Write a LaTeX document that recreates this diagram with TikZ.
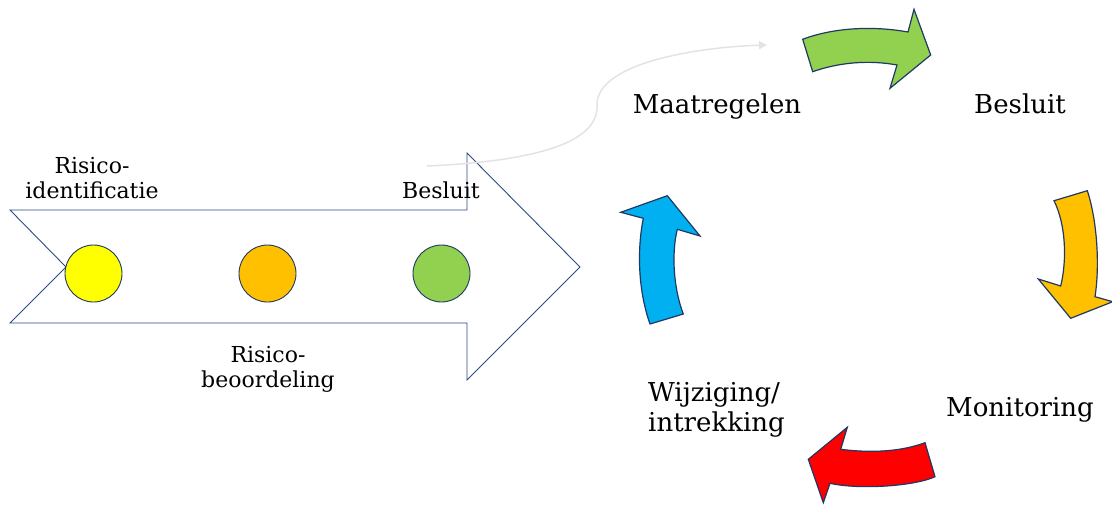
\documentclass[tikz,border=0pt]{standalone}
\usepackage{fontspec}
\setmainfont{DejaVu Serif}
\usetikzlibrary{arrows.meta}
\definecolor{navy}{HTML}{1F3864}
\definecolor{outl}{HTML}{2B4A84}
\definecolor{cyel}{HTML}{FFFF00}
\definecolor{corg}{HTML}{FFC000}
\definecolor{cgrn}{HTML}{92D050}
\definecolor{cblu}{HTML}{00B0F0}
\definecolor{cred}{HTML}{FF0000}
\definecolor{lgray}{HTML}{E3E3E3}
\begin{document}
\begin{tikzpicture}[x=1pt,y=-1pt,
  small/.style={font=\fontsize{22}{25}\selectfont, inner sep=0pt, align=center},
  large/.style={font=\fontsize{26}{30}\selectfont, inner sep=0pt, align=left},
  dot/.style={circle, draw=navy, line width=0.9pt, minimum size=57pt, inner sep=0pt},
  bendarrow/.style={draw=navy, line width=1.2pt, line join=miter}]
\useasboundingbox (0,0) rectangle (1112,504);
% big outline arrow
\draw[outl, line width=0.9pt, line join=miter]
  (10,210) -- (467,210) -- (467,153) -- (580,267) -- (467,380) -- (467,323) -- (10,323) -- (66,267) -- cycle;
% dots
\node[dot, fill=cyel] (d1) at (93.5,273.5) {};
\node[dot, fill=corg] (d2) at (267.5,273.5) {};
\node[dot, fill=cgrn] (d3) at (441.5,273.5) {};
% left labels
\node[small, anchor=base] (l1) at (92,198) {Risico-\\identificatie};
\node[small, anchor=base] (l2) at (441,198) {Besluit};
\node[small, anchor=base] (l3) at (268,387) {Risico-\\beoordeling};
% right labels
\node[large, anchor=base] (r1) at (717,113) {Maatregelen};
\node[large, anchor=base] (r2) at (1020,113) {Besluit};
\node[large, anchor=base] (r3) at (1020,416) {Monitoring};
\node[large, anchor=base west] (r4) at (648,431) {Wijziging/\\intrekking};
% grey connector
\coordinate (cs) at (427,166);
\coordinate (ce) at (767,45);
\draw[lgray, line width=1.5pt, -{Triangle[length=8pt,width=8pt]}]
  (cs) .. controls (560,160) and (600,135) .. (597,103)
       .. controls (600,62) and (700,47) .. (ce);
% green curved arrow
\filldraw[bendarrow, fill=cgrn]
  (802.7,39.3) .. controls (835,27) and (875,26) .. (908,32) -- (914,9.3) -- (930.7,55)
  -- (890,88.3) -- (897,65) .. controls (870,60) and (840,62) .. (812.7,71.7) -- cycle;
% yellow curved arrow
\filldraw[bendarrow, fill=corg]
  (1054,200.7) -- (1087.3,190.7) .. controls (1097,220) and (1100,265) .. (1095,296.7)
  -- (1112.7,301.7) -- (1070.7,318.3) -- (1038.3,279) -- (1060.7,286)
  .. controls (1067,260) and (1066,225) .. (1054,200.7) -- cycle;
% red curved arrow
\filldraw[bendarrow, fill=cred]
  (925,442.7) -- (935,476.7) .. controls (915,486) and (860,490) .. (830,483.3)
  -- (823.3,502.7) -- (808.3,459.3) -- (847.3,427.3) -- (840.7,449.3)
  .. controls (870,453) and (900,452) .. (925,442.7) -- cycle;
% blue curved arrow
\filldraw[bendarrow, fill=cblu]
  (650,324) -- (683.3,314) .. controls (674,290) and (671,255) .. (677.3,229.3)
  -- (700,236) -- (667.3,195.7) -- (620.7,212.3) -- (643.3,218.3)
  .. controls (637,250) and (638,290) .. (650,324) -- cycle;
\end{tikzpicture}
\end{document}
